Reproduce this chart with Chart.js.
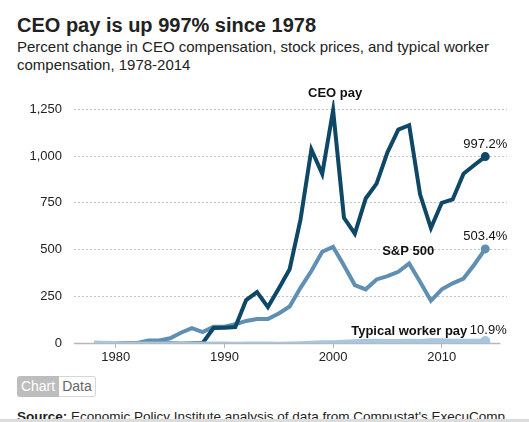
<!DOCTYPE html>
<html>
<head>
<meta charset="utf-8">
<script src="https://cdn.jsdelivr.net/npm/chart.js@4"></script>
<style>
  html, body { margin: 0; padding: 0; background: #fff; }
  body {
    width: 529px; height: 422px; overflow: hidden; position: relative;
    font-family: "Liberation Sans", Arial, sans-serif; color: #222;
  }
  #title { position: absolute; left: 17px; top: 15px; margin: 0;
    font-size: 20px; line-height: 20px; font-weight: bold; }
  #subtitle { position: absolute; left: 17px; top: 38px; width: 505px;
    font-size: 15px; line-height: 18px; }
  #chartBox { position: absolute; left: 0; top: 75px; width: 529px; height: 300px; }
  #toggle { position: absolute; left: 17px; top: 376px; height: 21px; display: flex;
    font-size: 14px; line-height: 21px; }
  #toggle span { display: block; padding: 0 3px; }
  #toggle .on { background: #bdbdbd; color: #fff; border-radius: 3px 0 0 3px; width: 36px; text-align: center; }
  #toggle .off { background: #fff; color: #666; border: 1px solid #d6d6d6; border-left: none;
    border-radius: 0 3px 3px 0; line-height: 19px; width: 30px; text-align: center; }
  #source { position: absolute; left: 17px; top: 409px; font-size: 13.5px; white-space: nowrap; }
  #bottomBar { position: absolute; left: 0; top: 419px; width: 529px; height: 3px; background: #dcdcdc; }
</style>
</head>
<body>
<h1 id="title">CEO pay is up 997% since 1978</h1>
<div id="subtitle">Percent change in CEO compensation, stock prices, and typical worker compensation, 1978-2014</div>
<div id="chartBox"><canvas id="chart"></canvas></div>
<div id="toggle"><span class="on">Chart</span><span class="off">Data</span></div>
<div id="source"><b>Source:</b> Economic Policy Institute analysis of data from Compustat's ExecuComp</div>
<div id="bottomBar"></div>
<script>
// cumulative % change since 1978
const years = [1978, 1979, 1980, 1981, 1982, 1983, 1984, 1985, 1986, 1987, 1988, 1989,
  1990, 1991, 1992, 1993, 1994, 1995, 1996, 1997, 1998, 1999, 2000, 2001, 2002, 2003,
  2004, 2005, 2006, 2007, 2008, 2009, 2010, 2011, 2012, 2013, 2014];
const ceoPay = [0, 0, 0, 0, 0, 0, 0, 0, 0, 0, 0, 80,
  82, 85, 230, 272, 192, 292, 395, 660, 1035, 905, 1245, 670, 585, 773,
  853, 1020, 1142, 1165, 795, 615, 750, 768, 906, 952, 997.2];
const sp500 = [0, 0, 0, 0, 0, 14, 14, 25, 55, 80, 58, 87,
  87, 100, 118, 128, 128, 158, 195, 295, 385, 488, 514, 415, 310, 287,
  340, 358, 381, 426, 328, 226, 287, 319, 345, 420, 503.4];
const workerPay = [0, -1, -3, -4, -4, -4, -4, -4, -3, -4, -5, -5,
  -6, -7, -6, -6, -6, -7, -6, -4, -1, 1, 2, 4, 7, 9,
  9, 8, 8, 9, 8, 12, 12, 10, 9, 10, 10.9];
const xTicks = [1980, 1990, 2000, 2010];
const yTicks = [0, 250, 500, 750, 1000, 1250];

const toPoints = vals => vals.map((v, i) => ({ x: years[i], y: v }));
const endDot = r => ctx => ctx.dataIndex === years.length - 1 ? r : 0;
const pct = vals => vals[vals.length - 1].toFixed(1) + '%';

// text next to the lines, anchored on a point of a series
const notes = [
  { text: 'CEO pay', ds: 1, year: 2000, dx: 2, dy: -17, bold: true },
  { text: pct(ceoPay), ds: 1, year: 2014, dx: 0, dy: -12 },
  { text: 'S&P 500', ds: 2, year: 2007, dx: -1, dy: -12, bold: true },
  { text: pct(sp500), ds: 2, year: 2014, dx: 0, dy: -12 },
  { text: pct(workerPay), ds: 0, year: 2014, dx: 3, dy: -11 },
  { text: 'Typical worker pay', ds: 0, year: 2014, dx: -76, dy: -10, bold: true },
];

const notesPlugin = {
  id: 'notes',
  afterDatasetsDraw(chart) {
    const c = chart.ctx;
    c.save();
    c.fillStyle = '#111';
    c.textAlign = 'center';
    c.textBaseline = 'middle';
    notes.forEach(n => {
      const pt = chart.getDatasetMeta(n.ds).data[years.indexOf(n.year)];
      c.font = (n.bold ? 'bold ' : '') + '13px "Liberation Sans", Arial, sans-serif';
      c.fillText(n.text, pt.x + n.dx, pt.y + n.dy);
    });
    c.restore();
  }
};

// bottom axis line stops a bit short of the gridlines
const axisLinePlugin = {
  id: 'axisLine',
  beforeDatasetsDraw(chart) {
    const c = chart.ctx, x = chart.scales.x, y = chart.scales.y;
    c.save();
    c.strokeStyle = '#b8b8b8';
    c.lineWidth = 1.5;
    c.beginPath();
    c.moveTo(chart.chartArea.left, y.getPixelForValue(0) + 0.5);
    c.lineTo(x.getPixelForValue(2015.4), y.getPixelForValue(0) + 0.5);
    c.stroke();
    c.restore();
  }
};

new Chart(document.getElementById('chart'), {
  type: 'line',
  data: {
    datasets: [
      { label: 'Typical worker pay', data: toPoints(workerPay), borderColor: '#a7c6e0',
        backgroundColor: '#a7c6e0', borderWidth: 5, pointRadius: endDot(2.5) },
      { label: 'CEO pay', data: toPoints(ceoPay), borderColor: '#0f4766',
        backgroundColor: '#0f4766', borderWidth: 4, pointRadius: endDot(2.5) },
      { label: 'S&P 500', data: toPoints(sp500), borderColor: '#5f8fb3',
        backgroundColor: '#5f8fb3', borderWidth: 4, pointRadius: endDot(2.5) },
    ]
  },
  options: {
    responsive: true,
    maintainAspectRatio: false,
    animation: false,
    layout: { padding: { top: 25, right: 22, left: 0, bottom: 0 } },
    elements: { line: { tension: 0 }, point: { borderWidth: 0, hoverRadius: 0 } },
    plugins: { legend: { display: false }, tooltip: { enabled: false } },
    scales: {
      x: {
        type: 'linear', min: 1976.16, max: 2016,
        afterBuildTicks: s => { s.ticks = xTicks.map(v => ({ value: v })); },
        afterFit: s => { s.height = 32; },
        border: { display: false },
        grid: { drawOnChartArea: false, drawTicks: true, tickLength: 5, color: '#b8b8b8' },
        ticks: { padding: 2, color: '#222', font: { size: 13, family: '"Liberation Sans", Arial, sans-serif' },
          callback: v => String(v) }
      },
      y: {
        min: 0, max: 1300,
        afterBuildTicks: s => { s.ticks = yTicks.map(v => ({ value: v })); },
        afterFit: s => { s.width = 74; },
        border: { display: false, dash: [2, 2] },
        grid: { drawTicks: false, lineWidth: 1,
          color: ctx => ctx.tick && ctx.tick.value === 0 ? 'rgba(0,0,0,0)' : '#c4c4c4' },
        ticks: { padding: 12, color: '#222', font: { size: 13, family: '"Liberation Sans", Arial, sans-serif' },
          callback: v => v.toLocaleString('en-US') }
      }
    }
  },
  plugins: [axisLinePlugin, notesPlugin]
});
</script>
</body>
</html>
